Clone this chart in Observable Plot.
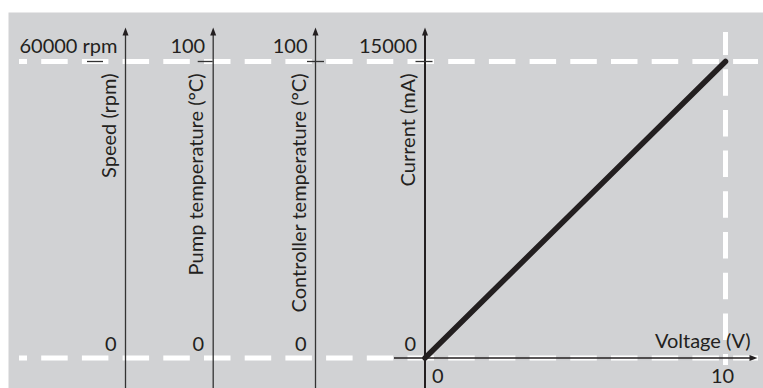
<!DOCTYPE html>
<html><head><meta charset="utf-8">
<script src="https://cdn.jsdelivr.net/npm/d3@7"></script>
<script src="https://cdn.jsdelivr.net/npm/@observablehq/plot@0.6"></script>
<style>
html,body{margin:0;padding:0;background:#fff;}
#chart svg{display:block;}
</style></head><body><div id="chart"></div>
<script>
// ---- data ----
const voltage = [0, 10];
const current = [0, 15000];
const axisNames = ["Speed (rpm)", "Pump temperature (°C)", "Controller temperature (°C)", "Current (mA)"];
const axisMaxLabels = ["60000 rpm", "100", "100", "15000"];
const axisMinLabels = ["0", "0", "0", "0"];
const voltageTicks = [0, 10];
const voltageTickLabels = ["0", "10"];
const voltageLabel = "Voltage (V)";
const maxCurrent = 15000;
const maxVoltage = 10;

// ---- layout (pixel helpers) ----
const W = 763, H = 388;
const x0px = 424.5, x10px = 725, y0px = 357.5, yMaxPx = 61;
const pxPerV = (x10px - x0px) / maxVoltage;
const pxPerMA = (y0px - yMaxPx) / maxCurrent;
const xv = px => (px - x0px) / pxPerV;
const ym = px => (y0px - px) / pxPerMA;
const axisX = [xv(125), xv(212.7), xv(315), 0];
const tickSpan = [[-38, -22], [-15, 0], [-8, 9], [-9, 8]];
const ink = "#231f20";
const font = "Lato, 'Noto Sans', sans-serif";

const idx = axisNames.map((d, i) => i);
const lineData = voltage.map((v, i) => ({v, c: current[i]}));

const arrowUp = {draw(ctx, size) { const r = Math.sqrt(size / Math.PI); ctx.moveTo(0, -r); ctx.lineTo(r * 0.75, r); ctx.lineTo(-r * 0.75, r); ctx.closePath(); }};
const arrowRight = {draw(ctx, size) { const r = Math.sqrt(size / Math.PI); ctx.moveTo(r, 0); ctx.lineTo(-r, r * 0.75); ctx.lineTo(-r, -r * 0.75); ctx.closePath(); }};

const dash = "26.5,14.2";

const chart = Plot.plot({
  width: W, height: H,
  marginLeft: 8, marginTop: 12, marginRight: 0, marginBottom: 0,
  x: {domain: [xv(8), xv(W)], axis: null},
  y: {domain: [ym(H), ym(12)], axis: null},
  style: {fontFamily: font, fontSize: "20px", background: "#fff", overflow: "visible"},
  marks: [
    Plot.frame({fill: "#d1d2d4", stroke: null}),
    // white dashed guide lines
    Plot.ruleY([0, maxCurrent], {x1: xv(19), x2: xv(758), stroke: "#fff", strokeWidth: 5, strokeDasharray: dash, strokeDashoffset: 18.5}),
    Plot.ruleX([maxVoltage], {y1: ym(32), y2: ym(365), stroke: "#fff", strokeWidth: 5, strokeDasharray: dash, strokeDashoffset: 3.5}),
    // vertical axes
    Plot.ruleX(idx.slice(0, 3), {x: i => axisX[i], y1: ym(H), y2: ym(33), stroke: "#333", strokeWidth: 1.3}),
    Plot.ruleX([3], {x: i => axisX[i], y1: ym(H), y2: ym(33), stroke: ink, strokeWidth: 2}),
    Plot.dot(idx, {x: i => axisX[i], y: maxCurrent, dy: -30, r: 4, symbol: arrowUp, fill: ink, stroke: null}),
    // top ticks
    Plot.ruleY(idx, {y: maxCurrent, x1: i => axisX[i] + tickSpan[i][0] / pxPerV, x2: i => axisX[i] + tickSpan[i][1] / pxPerV, stroke: "#333", strokeWidth: 1.3}),
    // voltage axis
    Plot.ruleY([0], {x1: xv(394), x2: xv(752), stroke: ink, strokeWidth: 1.3}),
    Plot.dot([0], {x: xv(753), y: 0, r: 4, symbol: arrowRight, fill: ink, stroke: null}),
    // data line
    Plot.line(lineData, {x: "v", y: "c", stroke: ink, strokeWidth: 5.5, strokeLinecap: "round"}),
    // axis texts
    Plot.text(idx, {x: i => axisX[i], y: maxCurrent, text: i => axisMaxLabels[i], dx: -8, dy: -9, textAnchor: "end", lineAnchor: "bottom", fontSize: 20, fill: ink}),
    Plot.text(idx, {x: i => axisX[i], y: 0, text: i => axisMinLabels[i], dx: -9, dy: -7, textAnchor: "end", lineAnchor: "bottom", fontSize: 20, fill: ink}),
    Plot.text(idx, {x: i => axisX[i], y: maxCurrent, text: i => axisNames[i], dx: -10, dy: 12, rotate: -90, textAnchor: "end", lineAnchor: "bottom", fontSize: 20, fill: ink}),
    Plot.text([0], {x: voltageTicks[0], y: 0, text: () => voltageTickLabels[0], dx: 7, dy: 25, textAnchor: "start", lineAnchor: "bottom", fontSize: 20, fill: ink}),
    Plot.text([1], {x: voltageTicks[1], y: 0, text: () => voltageTickLabels[1], dx: -3, dy: 25, textAnchor: "middle", lineAnchor: "bottom", fontSize: 20, fill: ink}),
    Plot.text([voltageLabel], {x: maxVoltage, y: 0, text: d => d, dx: 25, dy: -10, textAnchor: "end", lineAnchor: "bottom", fontSize: 20, fill: ink})
  ]
});
document.getElementById("chart").appendChild(chart);
</script>
</body></html>
